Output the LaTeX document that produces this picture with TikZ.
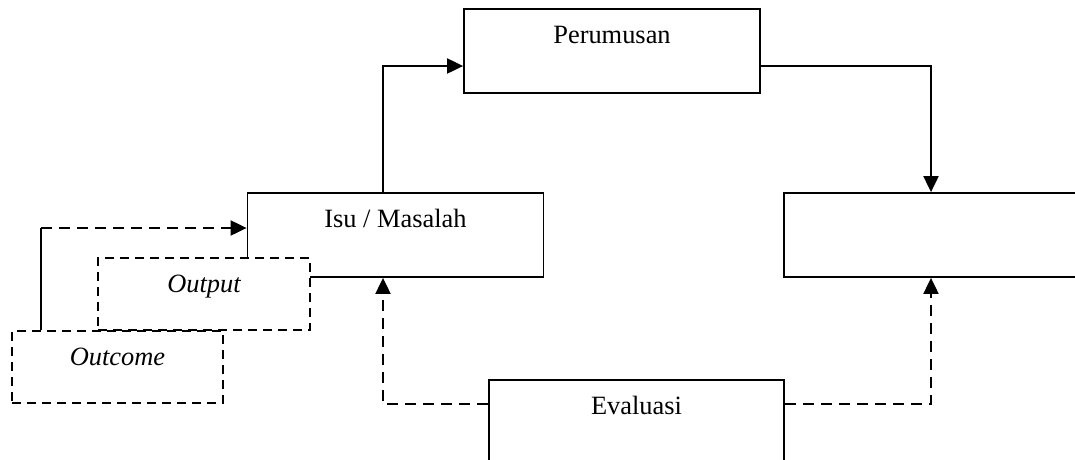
\documentclass[tikz,border=0pt]{standalone}
\usepackage{fontspec}
\setmainfont{Liberation Serif}
\usetikzlibrary{arrows.meta}
\begin{document}
\begin{tikzpicture}[x=1pt,y=-1pt,
  every node/.style={font=\fontsize{26.4}{30}\selectfont},
  box/.style={draw, line width=1.8pt, fill=white, inner sep=0pt, minimum height=84pt},
  dbox/.style={box, line width=1.5pt, dash pattern=on 9pt off 6pt, minimum height=72pt},
  txt/.style={anchor=base, yshift=-35.5pt, inner sep=0pt},
  conn/.style={line width=2pt},
  dconn/.style={line width=2pt, dash pattern=on 11pt off 7pt},
  arr/.style={-{Triangle[length=16pt,width=15pt]}}]
\useasboundingbox (0,0) rectangle (1075,459);
% boxes
\node[box, minimum width=296pt, label={[txt]north:Perumusan}] (per) at (612,51) {};
\node[box, minimum width=296pt, label={[txt]north:Isu / Masalah}] (isu) at (395.5,235) {};
\node[box, minimum width=301pt] (hasil) at (934.5,235) {};
\node[box, minimum width=295pt, minimum height=100pt, label={[txt]north:Evaluasi}] (eval) at (636.5,430) {};
\node[dbox, minimum width=212pt, label={[txt,font=\fontsize{26.4}{30}\selectfont\itshape]north:Output}] (output) at (204,294) {};
\node[dbox, minimum width=211pt, label={[txt,font=\fontsize{26.4}{30}\selectfont\itshape]north:Outcome}] (outcome) at (117.5,367) {};
% connectors
\coordinate (a1) at (383,66);
\coordinate (a2) at (931,66);
\coordinate (a3) at (383,404);
\coordinate (a4) at (931,404);
\coordinate (a5) at (41,228);
\draw[conn,arr] (a1 |- isu.north) -- (a1) -- (a1 -| per.west);
\draw[conn,arr] (a2 -| per.east) -- (a2) -- (a2 |- hasil.north);
\draw[dconn,arr] (a3 -| eval.west) -- (a3) -- (a3 |- isu.south);
\draw[dconn,arr] (a4 -| eval.east) -- (a4) -- (a4 |- hasil.south);
\draw[conn] (a5 |- outcome.north) -- (a5);
\draw[dconn,arr] (a5) -- (a5 -| isu.west);
\end{tikzpicture}
\end{document}
